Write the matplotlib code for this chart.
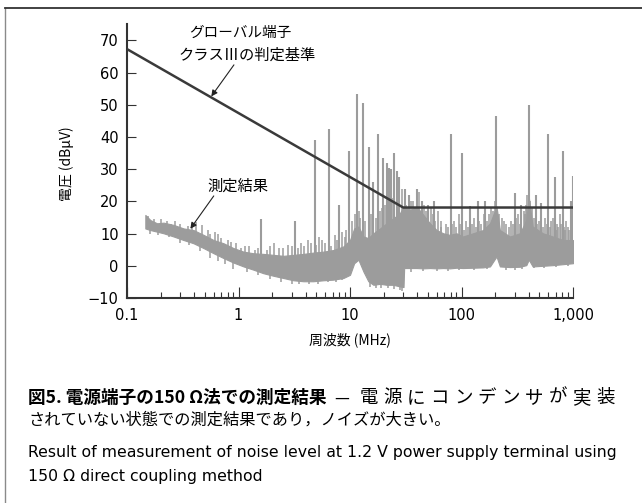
import numpy as np
import matplotlib
matplotlib.use('Agg')
import matplotlib.pyplot as plt
from matplotlib.lines import Line2D
from matplotlib.ticker import LogLocator, NullFormatter

# limit line (global pin, class III)
limit_f = [0.1, 30, 1000]
limit_db = [67.3, 18.1, 18.1]

# noise floor of the measurement, upper / lower edge of the grey band
env_f = [0.146, 0.162, 0.186, 0.213, 0.262, 0.322, 0.395, 0.486, 0.598, 0.734,
         0.902, 1.11, 1.36, 1.67, 2.06, 2.53, 3.11, 3.82, 4.69, 5.77,
         7.09, 8.71, 10.0, 10.9, 11.9, 13.2, 14.6, 16.2, 18.6, 21.3,
         24.4, 28.0, 30.2, 30.6, 34.6, 39.6, 45.5, 52.1, 59.8, 68.6,
         78.7, 90.2, 103, 127, 156, 180, 206, 221, 272, 334,
         381, 401, 435, 537, 659, 813, 1000]
env_hi = [15.8, 14.2, 13.2, 13.4, 12.7, 11.6, 11.1, 9.6, 8.0, 7.0,
          5.5, 4.4, 3.9, 3.7, 3.4, 3.1, 3.4, 3.7, 4.1, 4.4,
          4.9, 6.0, 8.0, 11.6, 12.2, 9.1, 8.6, 10.1, 11.6, 13.2,
          14.7, 16.3, 18.4, 18.4, 17.3, 18.4, 15.8, 13.2, 11.1, 10.1,
          9.6, 10.1, 9.1, 10.1, 11.1, 13.2, 18.4, 11.1, 9.1, 10.1,
          14.2, 21.4, 12.2, 10.1, 9.1, 8.0, 8.0]
env_lo = [11.6, 11.1, 10.6, 10.1, 9.1, 8.0, 7.0, 5.5, 3.9, 2.4,
          1.0, -0.2, -1.2, -2.3, -3.1, -3.8, -4.5, -4.8, -4.8, -4.5,
          -4.3, -3.8, -2.8, 0.8, 1.9, -1.8, -4.8, -5.9, -5.6, -5.9,
          -5.9, -6.4, -6.6, -0.7, -0.7, -0.7, -0.8, -0.7, -0.8, -0.7,
          -0.8, -0.6, -0.7, -0.6, -0.5, -0.2, 2.9, -0.2, -0.4, -0.3,
          0.2, 1.9, -0.2, 0.0, 0.2, 0.5, 0.8]

# narrow-band peaks (MHz, dBuV)
peak_f = [1.6, 3.2, 4.9, 6.5, 8.0, 9.7, 11.5, 13.0, 14.7, 16.2,
          17.9, 19.9, 21.3, 22.5, 23.5, 25.0, 26.2, 27.7, 31.3, 33.5,
          40, 44, 50, 57, 80, 100, 120, 141, 164, 206,
          300, 344, 400, 470, 520, 600, 685, 815, 950, 1000]
peak_db = [14.5, 14.0, 39.0, 42.5, 19.0, 35.5, 53.5, 50.5, 37.0, 26.0,
           41.0, 33.5, 32.0, 30.5, 30.0, 35.0, 29.5, 27.5, 24.0, 22.0,
           24.0, 20.0, 19.0, 20.0, 41.0, 35.0, 18.5, 20.0, 20.0, 46.5,
           22.5, 19.0, 50.0, 22.0, 19.5, 41.0, 27.5, 35.5, 20.0, 28.0]

# small grass on top of the band
grass_f = [0.155, 0.175, 0.2, 0.23, 0.25, 0.27, 0.3, 0.35, 0.38, 0.42,
           0.47, 0.53, 0.56, 0.62, 0.66, 0.7, 0.8, 0.85, 0.95, 1.05,
           1.15, 1.25, 1.4, 1.5, 1.8, 1.9, 2.1, 2.3, 2.5, 2.8,
           3.0, 3.4, 3.6, 3.9, 4.2, 4.5, 5.0, 5.3, 5.6, 6.0,
           6.8, 7.3, 7.7, 8.4, 9.0, 9.3, 10.5, 11, 12, 12.3,
           13.7, 15.3, 17, 18.5, 19.2, 20.5, 22, 24, 27, 29,
           32, 34, 35.5, 37, 39, 42, 46, 48, 53, 55,
           58, 62, 65, 66, 72, 75, 83, 86, 90, 94,
           97, 105, 110, 115, 125, 130, 135, 145, 150, 160,
           170, 175, 185, 190, 200, 215, 230, 240, 250, 265,
           280, 290, 310, 320, 335, 360, 370, 380, 390, 410,
           420, 430, 450, 480, 500, 540, 560, 580, 620, 640,
           660, 700, 720, 740, 760, 780, 830, 850, 870, 900,
           920, 980]
grass_db = [15.5, 14.5, 14.5, 14.0, 13.0, 13.8, 13.0, 12.5, 12.0, 13.5,
            12.8, 11.0, 10.0, 10.5, 9.8, 8.5, 8.0, 7.5, 7.0, 5.5,
            6.0, 6.0, 5.0, 5.5, 5.0, 6.0, 7.0, 5.5, 5.5, 6.5,
            6.0, 5.5, 7.0, 6.0, 8.0, 7.0, 6.5, 9.0, 8.0, 7.0,
            6.0, 9.5, 8.0, 10.5, 9.0, 11.0, 14.0, 16.0, 17.0, 15.0,
            14.0, 16.0, 15.0, 17.0, 18.0, 19.0, 20.0, 21.0, 22.0, 24.0,
            19.0, 21.0, 20.0, 20.0, 17.0, 23.0, 19.0, 17.0, 18.0, 16.0,
            14.0, 17.0, 12.0, 14.0, 13.0, 12.0, 13.0, 14.0, 12.0, 16.0,
            13.0, 11.0, 14.0, 12.0, 13.0, 15.0, 12.0, 14.0, 13.0, 16.0,
            14.0, 16.0, 18.0, 17.0, 20.0, 16.0, 15.0, 14.0, 13.0, 12.0,
            14.0, 13.0, 15.0, 16.0, 13.0, 17.0, 16.0, 19.0, 22.0, 20.0,
            16.0, 18.0, 15.0, 13.0, 14.0, 12.0, 15.0, 13.0, 12.0, 14.0,
            15.0, 11.0, 13.0, 12.0, 16.0, 13.0, 12.0, 11.0, 14.0, 12.0,
            11.0, 12.0]

# dips below the band
dip_f = [0.16, 0.19, 0.24, 0.3, 0.36, 0.45, 0.55, 0.65, 0.75, 0.9,
         1.2, 1.5, 1.9, 2.4, 3.0, 3.5, 4.3, 5.2, 6.3, 7.5,
         8.5, 15, 17, 19, 22, 25, 28, 29.5, 35, 45,
         60, 75, 95, 130, 170, 250, 300, 350, 450, 550,
         700, 900]
dip_db = [10.0, 9.5, 9.0, 7.0, 6.5, 4.5, 2.5, 1.5, 0.5, -1.0,
          -2.0, -3.0, -4.0, -5.0, -5.5, -5.5, -5.8, -5.5, -5.0, -5.0,
          -4.5, -6.5, -7.0, -7.0, -6.8, -7.2, -7.5, -7.8, -1.8, -1.5,
          -1.6, -1.5, -1.4, -1.3, -1.0, -1.2, -1.3, -1.0, -0.8, -0.8,
          -0.5, -0.2]

x_ticks = [0.1, 1, 10, 100, 1000]
x_ticklabels = ['0.1', '1', '10', '100', '1,000']
y_ticks = [-10, 0, 10, 20, 30, 40, 50, 60, 70]

jp = ['Noto Sans CJK JP', 'DejaVu Sans']
trace_col = '#9c9c9c'
dark = '#3a3a3a'

fig = plt.figure(figsize=(6.42, 5.03), dpi=100)
ax = fig.add_axes([127 / 642, 1 - 298 / 503, 446 / 642, 273.7 / 503])

ax.fill_between(env_f, env_lo, env_hi, color=trace_col, lw=0.8, zorder=2)
lf = np.log10(env_f)
peak_base = np.interp(np.log10(peak_f), lf, env_lo) + 1
grass_base = np.interp(np.log10(grass_f), lf, env_lo) + 1
dip_top = np.interp(np.log10(dip_f), lf, env_hi) - 1
ax.vlines(grass_f, grass_base, grass_db, color=trace_col, lw=1.1, zorder=2)
ax.vlines(dip_f, dip_db, dip_top, color=trace_col, lw=1.1, zorder=2)
ax.vlines(peak_f, peak_base, peak_db, color=trace_col, lw=1.5, zorder=2)
ax.plot(limit_f, limit_db, color=dark, lw=1.8, zorder=3)

ax.set_xscale('log')
ax.set_xlim(0.1, 1000)
ax.set_ylim(-10, 75)
ax.set_xticks(x_ticks)
ax.set_xticklabels(x_ticklabels)
ax.xaxis.set_minor_locator(LogLocator(base=10, subs=range(2, 10)))
ax.xaxis.set_minor_formatter(NullFormatter())
ax.set_yticks(y_ticks)

for s in ['top', 'right']:
    ax.spines[s].set_visible(False)
for s in ['left', 'bottom']:
    ax.spines[s].set_linewidth(1.5)
    ax.spines[s].set_color('#333333')
ax.tick_params(axis='x', which='major', direction='in', length=8, width=0.8,
               color='#333333', labelsize=10.5, pad=7)
ax.tick_params(axis='x', which='minor', direction='in', length=4, width=0.8,
               color='#333333')
ax.tick_params(axis='y', direction='in', length=6.5, width=0.8,
               color='#333333', labelsize=10.5, pad=6)

ax.set_xlabel('周波数 (MHz)', family=jp, fontsize=10, va='center')
ax.xaxis.set_label_coords(0.5, (298 - 340) / 273.7)
ax.set_ylabel('電圧 (dBμV)', family=jp, fontsize=10, va='center')
ax.yaxis.set_label_coords(-0.135, 0.49)

ax.text(1.03, 72.3, 'グローバル端子', family=jp, fontsize=10.5,
        ha='center', va='center')
ax.text(1.19, 65.5, 'クラスⅢの判定基準', family=jp, fontsize=11,
        ha='center', va='center')
ax.annotate('', xy=(0.57, 52.6), xytext=(0.91, 62.4),
            arrowprops=dict(arrowstyle='-|>', color='#222222', lw=0.8,
                            mutation_scale=9, shrinkA=0, shrinkB=0))
ax.text(0.99, 24.8, '測定結果', family=jp, fontsize=11,
        ha='center', va='center')
ax.annotate('', xy=(0.37, 11.5), xytext=(0.6, 21.7),
            arrowprops=dict(arrowstyle='-|>', color='#222222', lw=0.8,
                            mutation_scale=9, shrinkA=0, shrinkB=0))

# frame lines of the figure box
fig.add_artist(Line2D([4.5 / 642, 4.5 / 642], [0, 1 - 7.5 / 503],
                      color='#8a8a8a', lw=1.0))
fig.add_artist(Line2D([4.5 / 642, 1], [1 - 7.5 / 503, 1 - 7.5 / 503],
                      color='#333333', lw=1.3))

# caption
def fy(py):
    return 1 - py / 503

fig.text(28 / 642, fy(398), '図5. 電源端子の150 Ω法での測定結果', family=jp,
         fontsize=12.7, fontweight='bold', va='center', ha='left')
fig.text(342 / 642, fy(398), '—', family=jp, fontsize=12, va='center', ha='center')
rest = '電源にコンデンサが実装'
pitch = (617 - 357) / len(rest)
for i, ch in enumerate(rest):
    fig.text((357 + pitch * (i + 0.5)) / 642, fy(398), ch, family=jp,
             fontsize=13.3, va='center', ha='center')
fig.text(28 / 642, fy(420), 'されていない状態での測定結果であり，ノイズが大きい。',
         family=jp, fontsize=11.7, va='center', ha='left')
fig.text(28 / 642, fy(452),
         'Result of measurement of noise level at 1.2 V power supply terminal using',
         fontsize=11.3, va='center', ha='left')
fig.text(28 / 642, fy(477), '150 Ω direct coupling method',
         fontsize=11.3, va='center', ha='left')

fig.savefig('out.png', dpi=100)
